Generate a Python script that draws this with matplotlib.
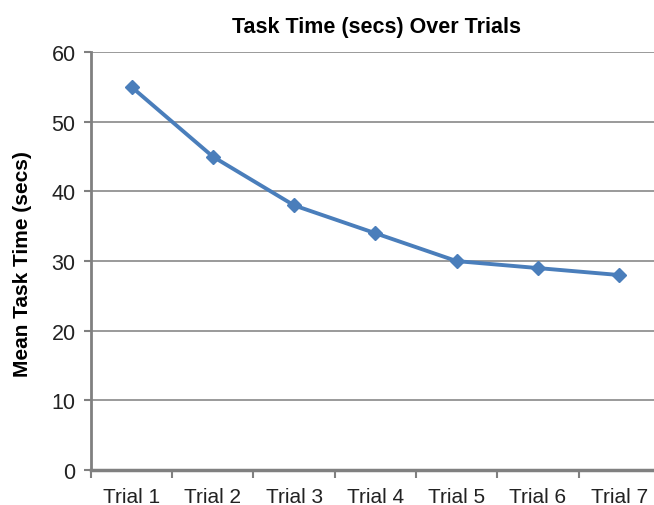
import matplotlib.pyplot as plt

# data
trials = ["Trial 1", "Trial 2", "Trial 3", "Trial 4", "Trial 5", "Trial 6", "Trial 7"]
mean_task_time = [55, 45, 38, 34, 30, 29, 28]
y_ticks = [0, 10, 20, 30, 40, 50, 60]

plt.rcParams['font.family'] = ['Liberation Sans', 'DejaVu Sans']

fig = plt.figure(figsize=(6.54, 5.06), dpi=100)
ax = fig.add_axes([0.139, 0.069, 0.870, 0.826])

x = list(range(len(trials)))
ax.plot(x, mean_task_time, color="#4a7ebb", linewidth=2.8, marker="D",
        markersize=7.5, zorder=3)

# y axis
ax.set_ylim(0, 60)
ax.set_yticks(y_ticks)
ax.tick_params(axis="y", labelsize=15.5, length=5, width=1.5, color="#808080",
               labelcolor="#222222", direction="out", pad=6)
ax.grid(axis="y", color="#9a9a9a", linewidth=1.4)
ax.set_axisbelow(True)

# x axis: tick marks at category edges, labels at centres
ax.set_xlim(-0.5, len(trials) - 0.5)
ax.set_xticks([i - 0.5 for i in range(len(trials) + 1)])
ax.set_xticklabels([])
ax.set_xticks(x, minor=True)
ax.set_xticklabels(trials, minor=True, fontsize=15, color="#222222")
ax.tick_params(axis="x", which="major", length=6, width=1.5, color="#808080",
               direction="out")
ax.tick_params(axis="x", which="minor", length=0, pad=12)

for side in ["top", "right"]:
    ax.spines[side].set_visible(False)
ax.spines["left"].set_color("#808080")
ax.spines["left"].set_linewidth(2)
ax.spines["bottom"].set_color("#808080")
ax.spines["bottom"].set_linewidth(2.5)

fig.text(0.035, 0.479, "Mean Task Time (secs)", fontsize=15, fontweight="bold",
         rotation=90, ha="center", va="center")
fig.text(0.576, 0.946, "Task Time (secs) Over Trials", fontsize=15.5,
         fontweight="bold", ha="center", va="center")

fig.savefig("out.png", dpi=100)
